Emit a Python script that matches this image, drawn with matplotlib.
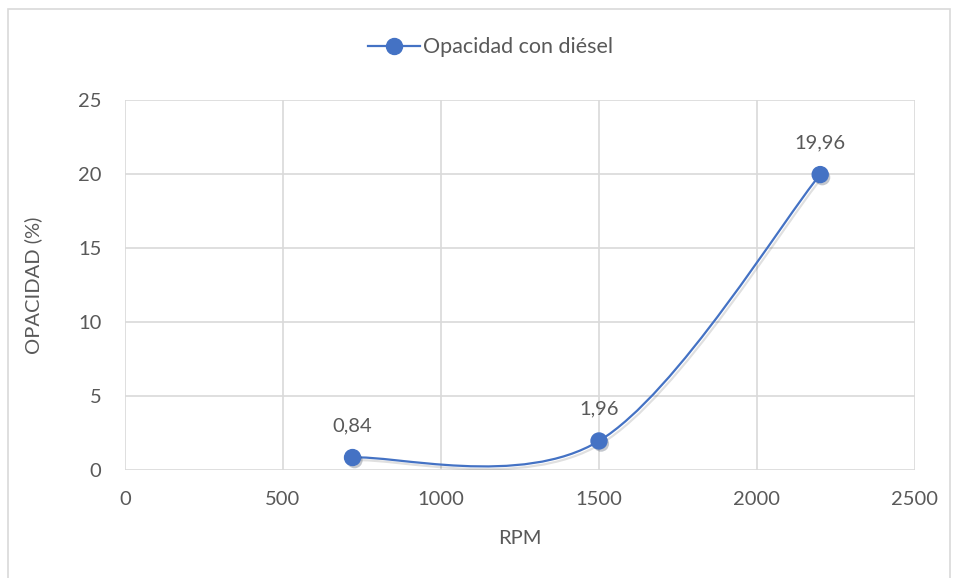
import matplotlib
matplotlib.use("Agg")
from matplotlib import pyplot as plt
from matplotlib.path import Path
from matplotlib.patches import PathPatch, Rectangle
import matplotlib.patheffects as pe

rpm = [720, 1500, 2200]
opacidad = [0.84, 1.96, 19.96]
etiquetas = ["0,84", "1,96", "19,96"]
serie = "Opacidad con diésel"

azul = "#4472C4"
gris_txt = "#595959"
gris_grid = "#D9D9D9"

plt.rcParams['font.family'] = ['Lato', 'DejaVu Sans']


def excel_smooth(xs, ys):
    # bezier segments like excel's smoothed line
    pts = list(zip(xs, ys))
    n = len(pts)
    verts = [pts[0]]
    codes = [Path.MOVETO]
    for i in range(n - 1):
        p0 = pts[max(i - 1, 0)]
        p1 = pts[i]
        p2 = pts[i + 1]
        p3 = pts[min(i + 2, n - 1)]
        c1 = (p1[0] + (p2[0] - p0[0]) / 6, p1[1] + (p2[1] - p0[1]) / 6)
        c2 = (p2[0] - (p3[0] - p1[0]) / 6, p2[1] - (p3[1] - p1[1]) / 6)
        verts += [c1, c2, p2]
        codes += [Path.CURVE4] * 3
    return Path(verts, codes)


def main():
    fig = plt.figure(figsize=(9.55, 5.78), dpi=100)
    ax = fig.add_axes([0.1309, 0.1869, 0.8272, 0.6401])

    # chart frame
    fig.patches.append(Rectangle((8 / 955, -0.05), 942 / 955, 1.05 - 9 / 578,
                                 transform=fig.transFigure, fill=False,
                                 edgecolor="#D9D9D9", linewidth=1.2))

    fs = 14.5
    ax.set_xlim(0, 2500)
    ax.set_ylim(0, 25)
    ax.set_xticks(range(0, 2501, 500))
    ax.set_yticks(range(0, 26, 5))
    ax.grid(True, color=gris_grid, linewidth=1.2)
    ax.set_axisbelow(True)
    for s in ax.spines.values():
        s.set_visible(False)
    ax.tick_params(length=0, labelsize=fs, labelcolor=gris_txt)
    ax.tick_params(axis='x', pad=15)
    ax.tick_params(axis='y', pad=17)

    curva = PathPatch(excel_smooth(rpm, opacidad), facecolor="none",
                      edgecolor=azul, linewidth=1.6, zorder=3)
    curva.set_path_effects([pe.SimpleLineShadow(offset=(1.5, -2), shadow_color="black", alpha=0.12),
                            pe.Normal()])
    ax.add_patch(curva)

    ax.plot(rpm, opacidad, linestyle="none", marker="o", markersize=11.5,
            color=azul, markeredgecolor=azul, zorder=4, clip_on=False,
            path_effects=[pe.SimplePatchShadow(offset=(1.5, -2), alpha=0.25),
                          pe.Normal()])

    for x, y, t in zip(rpm, opacidad, etiquetas):
        ax.annotate(t, (x, y), xytext=(0, 23), textcoords="offset points",
                    ha="center", va="center", fontsize=fs, color=gris_txt)

    ax.set_xlabel("RPM", fontsize=fs, color=gris_txt, labelpad=16)
    ax.set_ylabel("OPACIDAD (%)", fontsize=fs, color=gris_txt, labelpad=26)

    h, = ax.plot([], [], color=azul, linewidth=1.6, marker="o",
                 markersize=11.5)
    fig.legend([h], [serie], loc="center", bbox_to_anchor=(0.514, 0.918),
               frameon=False, fontsize=15.5, labelcolor=gris_txt,
               handlelength=2.4, handletextpad=0.15)

    fig.savefig("out.png", dpi=100)
    plt.close()


if __name__ == '__main__':
    main()
